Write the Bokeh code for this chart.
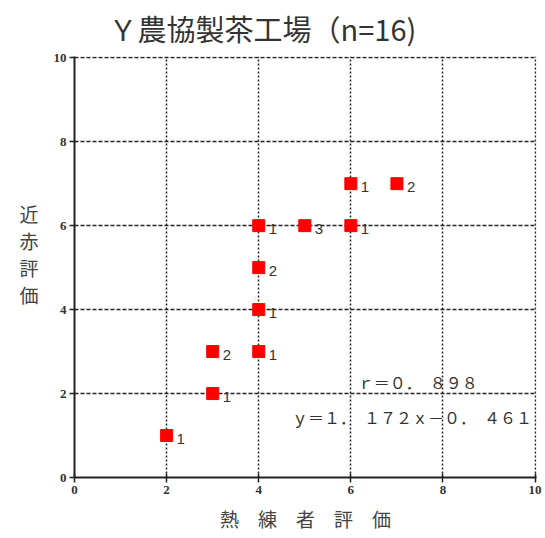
from bokeh.plotting import figure
from bokeh.models import ColumnDataSource, Label, FixedTicker, Range1d, Title
from bokeh.core.properties import value
from bokeh.embed import file_html
from bokeh.resources import INLINE

# data: 熟練者評価 (x), 近赤評価 (y), count of samples at the point
expert = [2, 3, 3, 4, 4, 4, 4, 5, 6, 6, 7]
nir = [1, 2, 3, 3, 4, 5, 6, 6, 6, 7, 7]
counts = ["1", "1", "2", "1", "1", "2", "1", "3", "1", "1", "2"]
ticks = [0, 2, 4, 6, 8, 10]

title_text = "Ｙ農協製茶工場（n=16)"
x_label = "熱　練　者　評　価"
y_label = "近\n赤\n評\n価\n"
r_text = "ｒ＝０．　８９８"
eq_text = "ｙ＝１．　１７２ｘ－０．　４６１"

src = ColumnDataSource(dict(x=expert, y=nir, n=counts))

p = figure(width=545, height=538, output_backend="svg", toolbar_location=None,
           x_range=Range1d(0, 10.03), y_range=Range1d(0, 10.03),
           min_border_left=74, min_border_right=9, min_border_top=20, min_border_bottom=61)
p.outline_line_color = None
p.background_fill_color = "white"

p.add_layout(Title(text=title_text, align="left", vertical_align="top",
                   text_font="Noto Sans CJK JP", text_font_size="29px",
                   text_font_style="normal", text_color="#333333",
                   offset=34, standoff=12), "above")

for ax in (p.xaxis[0], p.yaxis[0]):
    ax.ticker = FixedTicker(ticks=ticks)
    ax.minor_tick_line_color = None
    ax.axis_line_color = "#222222"
    ax.axis_line_width = 2
    ax.major_tick_line_color = "#222222"
    ax.major_tick_line_width = 1.5
    ax.major_tick_out = 5
    ax.major_label_text_font = "Liberation Serif"
    ax.major_label_text_font_style = "bold"
    ax.major_label_text_font_size = "13px"
    ax.major_label_text_color = "#333333"
    ax.axis_label_text_font = "Noto Sans CJK JP"
    ax.axis_label_text_font_style = "normal"
    ax.axis_label_text_color = "#444444"
    ax.axis_label_text_font_size = "19px"

p.xaxis.major_tick_in = 4
p.yaxis.major_tick_in = 0
p.xaxis.axis_label = x_label
p.xaxis.major_label_standoff = 3
p.xaxis.axis_label_standoff = 8
p.yaxis.axis_label = y_label
p.yaxis.axis_label_text_line_height = 1.0
p.yaxis.axis_label_orientation = "horizontal"
p.yaxis.major_label_standoff = 3
p.yaxis.axis_label_standoff = 12

p.xgrid.ticker = FixedTicker(ticks=ticks)
p.ygrid.ticker = FixedTicker(ticks=ticks)
p.xgrid.grid_line_dash = "2 2"
p.ygrid.grid_line_dash = "4 2"
for g in (p.xgrid[0], p.ygrid[0]):
    g.grid_line_color = "#222222"
    g.grid_line_width = 1.5

p.scatter("x", "y", source=src, marker="square", size=12, color="#ff0000")
p.text("x", "y", text="n", source=src, x_offset=10, y_offset=3,
       text_baseline="middle", text_font=value("Liberation Sans"),
       text_font_size="15px", text_color="#333333")

p.add_layout(Label(x=6.15, y=2.27, text=r_text, text_baseline="middle",
                   text_font="Noto Sans CJK JP", text_font_size="16px",
                   text_color="#333333"))
p.add_layout(Label(x=4.72, y=1.43, text=eq_text, text_baseline="middle",
                   text_font="Noto Sans CJK JP", text_font_size="16px",
                   text_color="#333333"))

open("out.html", "w").write(file_html(p, INLINE))
